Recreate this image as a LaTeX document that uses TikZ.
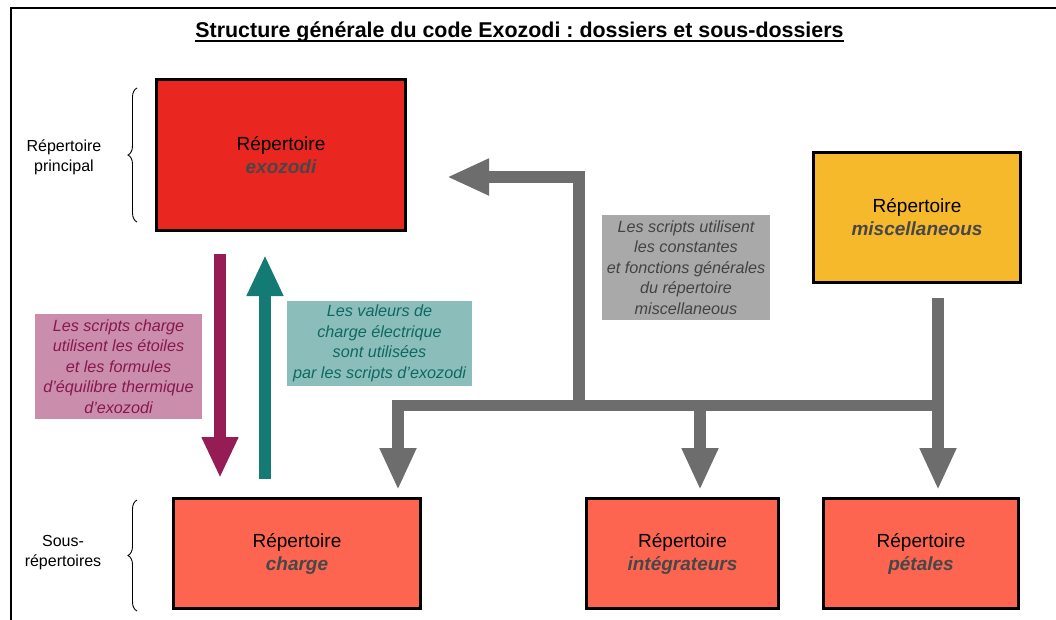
\documentclass[tikz,border=0pt]{standalone}
\usepackage{fontspec}
\setmainfont{Liberation Sans}
\usetikzlibrary{arrows.meta,decorations.pathreplacing,calc}
\frenchspacing
\definecolor{redbox}{HTML}{EA2620}
\definecolor{miscbox}{HTML}{F6B92B}
\definecolor{subbox}{HTML}{FD6551}
\definecolor{dirgray}{HTML}{474747}
\definecolor{magarrow}{HTML}{951C55}
\definecolor{magfill}{HTML}{CB8DAC}
\definecolor{magtext}{HTML}{86194D}
\definecolor{tealarrow}{HTML}{137B73}
\definecolor{tealfill}{HTML}{8BBEBA}
\definecolor{tealtext}{HTML}{0E6962}
\definecolor{grayarrow}{HTML}{6D6D6D}
\definecolor{grayfill}{HTML}{A9A9A9}
\definecolor{graytext}{HTML}{434343}
\tikzset{
  dirbox/.style={draw=black, line width=3pt, align=center, inner sep=0pt,
    font=\fontsize{19}{23}\selectfont},
  sidelabel/.style={align=center, inner sep=0pt, font=\fontsize{16}{20}\selectfont},
  notebox/.style={align=center, inner sep=0pt, font=\fontsize{16.2}{20.5}\selectfont\itshape},
  bracestyle/.style={decorate, decoration={brace, amplitude=9pt}, line width=0.9pt},
  bigarrow/.style={line width=12pt, -{Triangle[width=34pt,length=41pt]}},
  grayline/.style={draw=grayarrow, line width=11.5pt, line join=miter},
  grayarr/.style={grayline, -{Triangle[width=34pt,length=42pt]}},
}
\newcommand{\dirname}[1]{{\bfseries\itshape\color{dirgray}#1}}
\begin{document}
\begin{tikzpicture}[x=1pt,y=-1pt]
\useasboundingbox (0,0) rectangle (1056,619);
\fill[white] (0,0) rectangle (1056,619);
\draw[line width=2.2pt] (1060,8) -- (11,8) -- (11,625);

% title
\node[anchor=base, inner sep=0pt, font=\fontsize{21.4}{25}\selectfont\bfseries] (title) at (519.5,37)
  {Structure générale du code Exozodi : dossiers et sous-dossiers};
\draw[line width=1.5pt] ($(title.base west)+(0,4)$) -- ($(title.base east)+(0,4)$);

% boxes
\node[dirbox, fill=redbox, minimum width=249pt, minimum height=151pt] (exozodi) at (281,155)
  {Répertoire\\\dirname{exozodi}};
\node[dirbox, fill=miscbox, minimum width=207pt, minimum height=130pt] (misc) at (917,217.5)
  {Répertoire\\\dirname{miscellaneous}};
\node[dirbox, fill=subbox, minimum width=247pt, minimum height=110pt] (charge) at (297,553.5)
  {Répertoire\\\dirname{charge}};
\node[dirbox, fill=subbox, minimum width=192pt, minimum height=110pt] (integ) at (682.5,553.5)
  {Répertoire\\\dirname{intégrateurs}};
\node[dirbox, fill=subbox, minimum width=195pt, minimum height=110pt] (petales) at (921,553.5)
  {Répertoire\\\dirname{pétales}};

% side labels and braces
\node[sidelabel] (principal) at (64,157) {Répertoire\\principal};
\node[sidelabel] (sous) at (63,553) {Sous-\\répertoires};
\coordinate (b1a) at (137,222);
\coordinate (b1b) at (137,88);
\coordinate (b2a) at (137,611);
\coordinate (b2b) at (137,500);
\draw[bracestyle] (b1a) -- (b1b);
\draw[bracestyle] (b2a) -- (b2b);

% note boxes
\node[notebox, fill=magfill, text=magtext, minimum width=167pt, minimum height=105pt] (magnote) at (118.5,366.5)
  {Les scripts charge\\utilisent les étoiles\\et les formules\\d’équilibre thermique\\d’exozodi};
\node[notebox, fill=tealfill, text=tealtext, minimum width=185pt, minimum height=85pt] (tealnote) at (379.5,343.5)
  {Les valeurs de\\charge électrique\\sont utilisées\\par les scripts d’exozodi};
\node[notebox, fill=grayfill, text=graytext, minimum width=168pt, minimum height=105pt] (graynote) at (686,267.5)
  {Les scripts utilisent\\les constantes\\et fonctions générales\\du répertoire\\miscellaneous};

% magenta and teal arrows
\coordinate (mx) at (220,0);
\coordinate (tx) at (265,0);
\draw[bigarrow, draw=magarrow, fill=magarrow, shorten <=22pt, shorten >=19pt]
  (exozodi.south -| mx) -- (charge.north -| mx);
\draw[bigarrow, draw=tealarrow, fill=tealarrow, shorten <=18pt, shorten >=23pt]
  (charge.north -| tx) -- (exozodi.south -| tx);

% gray arrows
\coordinate (gx) at (938,0);
\coordinate (cx) at (398,0);
\coordinate (ix) at (700,0);
\coordinate (ux) at (579,0);
\coordinate (bus) at (0,405.5);
\coordinate (ua) at (579,177);
\draw[grayarr, shorten <=14pt, shorten >=7pt] (misc.south -| gx) -- (petales.north -| gx);
\draw[grayarr, shorten >=7pt] ($(bus -| gx)+(5.75,0)$) -- (bus -| cx) -- (charge.north -| cx);
\draw[grayarr, shorten >=7pt] (bus -| ix) -- (integ.north -| ix);
\draw[grayarr, shorten >=40pt] ($(bus -| ux)+(0,5.75)$) -- (ua) -- (exozodi.east |- ua);
\end{tikzpicture}
\end{document}
